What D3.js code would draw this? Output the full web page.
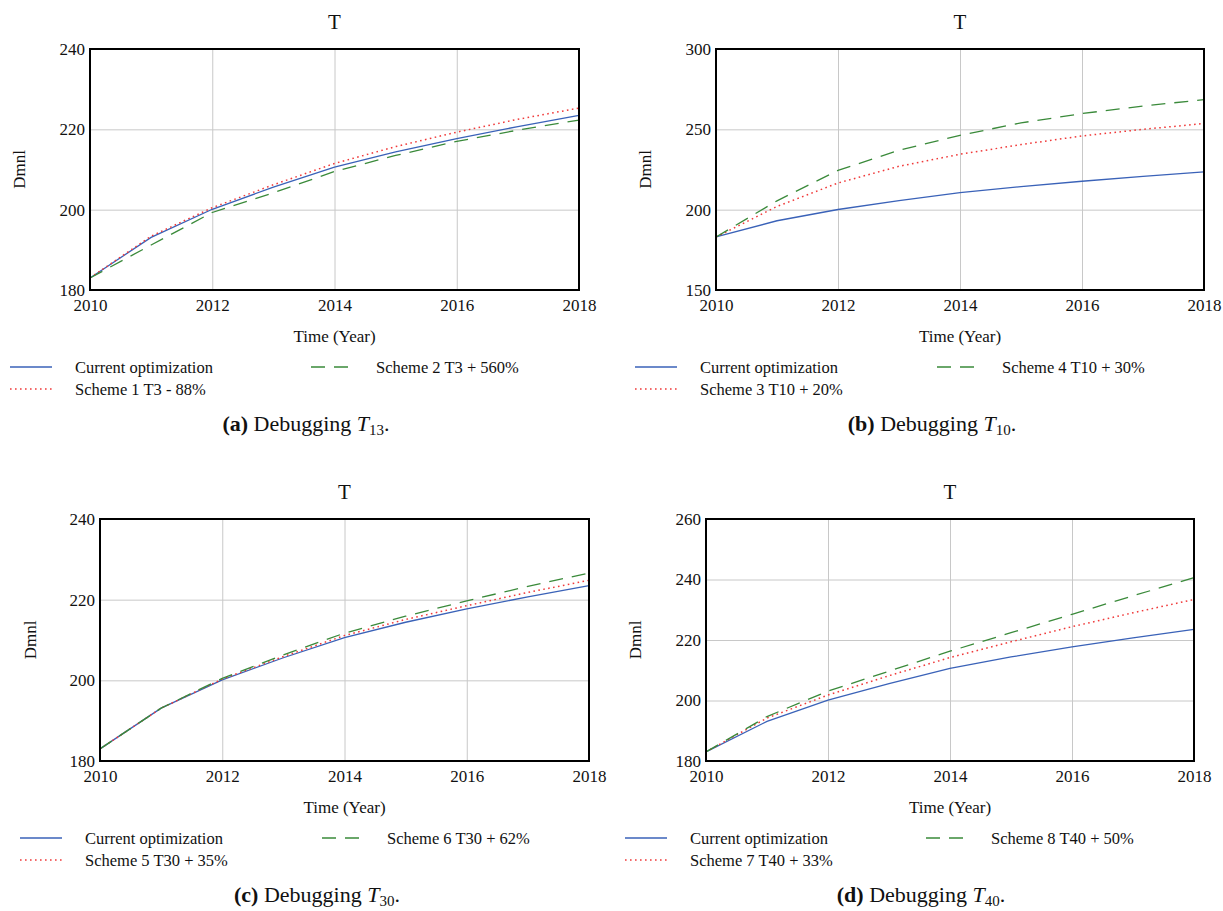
<!DOCTYPE html>
<html>
<head>
<meta charset="utf-8">
<script src="https://cdn.jsdelivr.net/npm/d3@7"></script>
<style>
    body { margin: 0; background: #fff; }
    svg text { font-family: "Liberation Serif", "DejaVu Serif", serif; fill: #111; }
    .tick text { font-size: 17px; }
    .grid line { stroke: #c8c8c8; stroke-width: 1; }
</style>
</head>
<body>
<div id="chart"></div>
<script>
// data (Vensim output, yearly points)
const years = [2010, 2011, 2012, 2013, 2014, 2015, 2016, 2017, 2018];
const xTicks = [2010, 2012, 2014, 2016, 2018];

const currentOpt = [183, 193.1, 200.1, 205.6, 210.6, 214.4, 217.7, 220.7, 223.5];
const scheme1 = [183, 193.4, 200.5, 206.2, 211.5, 215.7, 219.3, 222.5, 225.3];
const scheme2 = [183, 191.2, 199.3, 204.2, 209.5, 213.5, 217, 219.8, 222.3];
const scheme3 = [183, 202, 216.6, 227, 234.5, 240.5, 245.9, 250, 253.6];
const scheme4 = [183, 205.5, 224.4, 237, 246.3, 254, 259.8, 264.5, 268.5];
const scheme5 = [183, 193.1, 200.3, 205.9, 211.1, 215.1, 218.5, 221.8, 224.8];
const scheme6 = [183, 193.1, 200.5, 206.3, 211.7, 215.9, 219.7, 223.3, 226.6];
const scheme7 = [183, 194.2, 201.8, 208.2, 214.2, 219.4, 224.4, 229, 233.4];
const scheme8 = [183, 194.7, 203.1, 209.7, 216.3, 222.4, 228.5, 234.6, 240.6];

const yTicksA = [180, 200, 220, 240];
const yTicksB = [150, 200, 250, 300];
const yTicksC = [180, 200, 220, 240];
const yTicksD = [180, 200, 220, 240, 260];

const fontFamily = "Liberation Serif, DejaVu Serif, serif";
const blue = "#3a62b8", red = "#f03a3a", green = "#3a8a3a";
const styles = {
    solid: { color: blue, dash: null, w: 1.3 },
    dot: { color: red, dash: "1.6,3.4", w: 1.5 },
    dash: { color: green, dash: "14,9", w: 1.3 }
};

const panels = [
    { left: 90, right: 579, top: 49, bottom: 290, ticks: yTicksA, letter: "a", sub: "13",
      series: [["Current optimization", currentOpt, "solid"], ["Scheme 1 T3 - 88%", scheme1, "dot"], ["Scheme 2 T3 + 560%", scheme2, "dash"]],
      dmnlX: 19, legX: [10, 311], capX: 306 },
    { left: 716, right: 1204, top: 49, bottom: 290, ticks: yTicksB, letter: "b", sub: "10",
      series: [["Current optimization", currentOpt, "solid"], ["Scheme 3 T10 + 20%", scheme3, "dot"], ["Scheme 4 T10 + 30%", scheme4, "dash"]],
      dmnlX: 645, legX: [635, 937], capX: 932 },
    { left: 100, right: 589, top: 519, bottom: 761, ticks: yTicksC, letter: "c", sub: "30",
      series: [["Current optimization", currentOpt, "solid"], ["Scheme 5 T30 + 35%", scheme5, "dot"], ["Scheme 6 T30 + 62%", scheme6, "dash"]],
      dmnlX: 30, legX: [20, 322], capX: 317 },
    { left: 706, right: 1194, top: 519, bottom: 761, ticks: yTicksD, letter: "d", sub: "40",
      series: [["Current optimization", currentOpt, "solid"], ["Scheme 7 T40 + 33%", scheme7, "dot"], ["Scheme 8 T40 + 50%", scheme8, "dash"]],
      dmnlX: 635, legX: [625, 926], capX: 921 }
];

const svg = d3.select("#chart").append("svg")
    .attr("width", 1223)
    .attr("height", 911)
    .attr("font-family", fontFamily);

svg.append("rect").attr("width", 1223).attr("height", 911).attr("fill", "#fff");

panels.forEach(drawPanel);

function drawPanel(p) {

    const xScale = d3.scaleLinear().domain([2010, 2018]).range([p.left, p.right]);
    const yScale = d3.scaleLinear().domain(d3.extent(p.ticks)).range([p.bottom, p.top]);
    const width = p.right - p.left, height = p.bottom - p.top;
    const cx = (p.left + p.right) / 2;

    const g = svg.append("g");

    // grid
    g.append("g")
        .attr("class", "grid")
        .attr("transform", `translate(0,${p.bottom})`)
        .call(d3.axisBottom(xScale).tickValues(xTicks.slice(1, -1)).tickSize(-height).tickFormat(""))
        .call(a => a.select(".domain").remove());
    g.append("g")
        .attr("class", "grid")
        .attr("transform", `translate(${p.left},0)`)
        .call(d3.axisLeft(yScale).tickValues(p.ticks.slice(1, -1)).tickSize(-width).tickFormat(""))
        .call(a => a.select(".domain").remove());

    // tick labels
    g.append("g")
        .attr("transform", `translate(0,${p.bottom})`)
        .call(d3.axisBottom(xScale).tickValues(xTicks).tickSize(0).tickPadding(9).tickFormat(d3.format("d")))
        .attr("font-family", fontFamily)
        .attr("font-size", 17)
        .call(a => a.select(".domain").remove());
    g.append("g")
        .attr("transform", `translate(${p.left},0)`)
        .call(d3.axisLeft(yScale).tickValues(p.ticks).tickSize(0).tickPadding(5))
        .attr("font-family", fontFamily)
        .attr("font-size", 17)
        .call(a => a.select(".domain").remove());

    // lines
    const line = d3.line()
        .x((d, i) => xScale(years[i]))
        .y(d => yScale(d));

    p.series.forEach(([name, values, st]) => {
        const s = styles[st];
        g.append("path")
            .datum(values)
            .attr("fill", "none")
            .attr("stroke", s.color)
            .attr("stroke-width", s.w)
            .attr("stroke-dasharray", s.dash)
            .attr("d", line);
    });

    // frame
    g.append("rect")
        .attr("x", p.left).attr("y", p.top)
        .attr("width", width).attr("height", height)
        .attr("fill", "none")
        .attr("stroke", "#000")
        .attr("stroke-width", 2);

    // title and axis titles
    g.append("text")
        .attr("x", cx).attr("y", p.top - 20)
        .attr("text-anchor", "middle")
        .style("font-size", "21px")
        .text("T");

    g.append("text")
        .attr("x", cx).attr("y", p.bottom + 52)
        .attr("text-anchor", "middle")
        .style("font-size", "17px")
        .text("Time (Year)");

    g.append("text")
        .attr("transform", `translate(${p.dmnlX},${(p.top + p.bottom) / 2}) rotate(-90)`)
        .attr("dy", "0.35em")
        .attr("text-anchor", "middle")
        .style("font-size", "17px")
        .text("Dmnl");

    // legend
    const legPos = [[p.legX[0], p.bottom + 77], [p.legX[0], p.bottom + 99], [p.legX[1], p.bottom + 77]];
    p.series.forEach(([name, values, st], i) => {
        const s = styles[st];
        const [lx, ly] = legPos[i];
        g.append("line")
            .attr("x1", lx).attr("x2", lx + 42)
            .attr("y1", ly).attr("y2", ly)
            .attr("stroke", s.color)
            .attr("stroke-width", s.w)
            .attr("stroke-dasharray", s.dash);
        g.append("text")
            .attr("x", lx + 65).attr("y", ly)
            .attr("dy", "0.35em")
            .style("font-size", "16.5px")
            .text(name);
    });

    // caption
    const cap = g.append("text")
        .attr("x", p.capX).attr("y", p.bottom + 141)
        .attr("text-anchor", "middle")
        .style("font-size", "22px");
    cap.append("tspan").style("font-weight", "bold").text(`(${p.letter})`);
    cap.append("tspan").text(" Debugging ");
    cap.append("tspan").style("font-style", "italic").text("T");
    cap.append("tspan").attr("dy", 4).style("font-size", "15px").text(p.sub);
    cap.append("tspan").attr("dy", -4).text(".");
}
</script>
</body>
</html>
